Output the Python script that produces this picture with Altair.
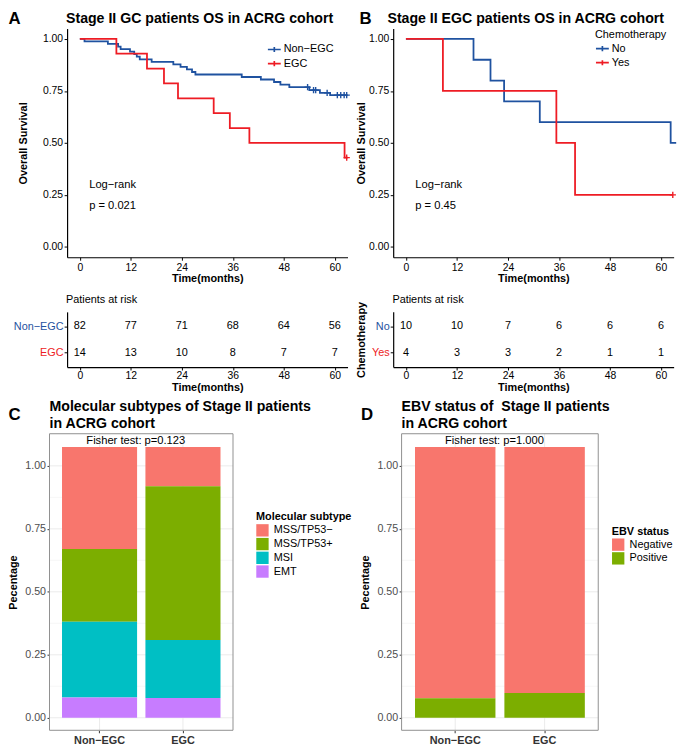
import altair as alt
import pandas as pd

# ---------------- data ----------------
time_breaks = [0, 12, 24, 36, 48, 60]
surv_ticks = [0, 0.25, 0.5, 0.75, 1.0]

# Panel A : Stage II GC, Non-EGC vs EGC
a_groups = ["Non−EGC", "EGC"]
a_nonegc_time = [0, 1.1, 6.6, 9.0, 9.6, 11.8, 12.8, 13.4, 14.1, 16.9, 22.0, 23.7,
                 25.2, 26.4, 27.2, 38.1, 42.6, 45.7, 47.2, 49.3, 54.0, 56.5, 58.9, 63.0]
a_nonegc_surv = [1.0, 0.988, 0.976, 0.963, 0.951, 0.939, 0.927, 0.915, 0.902, 0.890, 0.878, 0.866,
                 0.854, 0.841, 0.829, 0.817, 0.805, 0.793, 0.780, 0.768, 0.754, 0.741, 0.730, 0.730]
a_nonegc_cens_time = [53.6, 55.0, 55.5, 58.2, 60.6, 61.4, 62.2, 62.8]
a_nonegc_cens_surv = [0.768, 0.754, 0.754, 0.741, 0.730, 0.730, 0.730, 0.730]
a_egc_time = [0, 8.6, 15.8, 19.8, 23.1, 31.5, 35.3, 39.9, 62.3, 63.0]
a_egc_surv = [1.0, 0.929, 0.857, 0.786, 0.714, 0.643, 0.571, 0.500, 0.429, 0.429]
a_egc_cens_time = [62.8]
a_egc_cens_surv = [0.429]
a_risk_nonegc = [82, 77, 71, 68, 64, 56]
a_risk_egc = [14, 13, 10, 8, 7, 7]
a_pvalue = "p = 0.021"

# Panel B : Stage II EGC, chemotherapy No vs Yes
b_groups = ["No", "Yes"]
b_no_time = [0, 15.9, 19.9, 23.1, 31.5, 62.3, 63.6]
b_no_surv = [1.0, 0.9, 0.8, 0.7, 0.6, 0.5, 0.5]
b_yes_time = [0, 8.7, 35.4, 39.8, 62.8]
b_yes_surv = [1.0, 0.75, 0.5, 0.25, 0.25]
b_yes_cens_time = [62.8]
b_yes_cens_surv = [0.25]
b_risk_no = [10, 10, 7, 6, 6, 6]
b_risk_yes = [4, 3, 3, 2, 1, 1]
b_pvalue = "p = 0.45"

# Panel C : molecular subtypes (segment heights; stacked bottom-up in reverse list order)
bar_groups = ["Non−EGC", "EGC"]
subtypes = ["MSS/TP53−", "MSS/TP53+", "MSI", "EMT"]
c_nonegc = [0.405, 0.289, 0.301, 0.080]
c_egc = [0.156, 0.610, 0.231, 0.078]
c_fisher = "Fisher test: p=0.123"

# Panel D : EBV status
ebv_levels = ["Negative", "Positive"]
d_nonegc = [0.998, 0.077]
d_egc = [0.977, 0.098]
d_fisher = "Fisher test: p=1.000"

# ---------------- layout helpers ----------------
W, H = 677, 738
FONT = "Liberation Sans"
BLUE = "#1F52A0"
RED = "#EE1C24"
HUE4 = ["#F8766D", "#7CAE00", "#00BFC4", "#C77CFF"]


def X(v):
    return v - 8.0


def Y(v):
    return (v - 3.0) * 0.997


ONE = pd.DataFrame({"k": [0]})
CROSS = "M-1,0L1,0M0,-1L0,1"
LEG_CROSS = "M-1,0L1,0M0,-0.4L0,0.4"


def text_mark(txt, x, y, size, weight="normal", align="left", baseline="middle", color="black"):
    return alt.Chart(ONE).mark_text(
        text=txt, fontSize=size, fontWeight=weight, align=align, baseline=baseline,
        color=color, font=FONT,
    ).encode(x=alt.value(x), y=alt.value(y))


def frame(parts, cols):
    rows = []
    for g, a, b in parts:
        for u, v in zip(a, b):
            rows.append({cols[0]: u, cols[1]: v, "group": g})
    return pd.DataFrame(rows)


AX_KM = dict(domainColor="black", domainWidth=1.2, tickColor="black", tickWidth=1,
             labelColor="black", labelFontSize=10.5, titleFontSize=11, titleFontWeight="bold",
             titleColor="black", grid=False, labelFlush=False)

KM_YRANGE = [Y(251.55), Y(19.45)]


def km_block(curves, cens, groups, xr, legend, ytitle_dx, pval):
    xs = alt.Scale(domain=[-3, 63], range=xr, nice=False, zero=False)
    ys = alt.Scale(domain=[-0.05, 1.05], range=KM_YRANGE, nice=False, zero=False)
    cs = alt.Scale(domain=groups, range=[BLUE, RED])
    xaxis = alt.Axis(orient="bottom", offset=KM_YRANGE[0] - H, values=time_breaks,
                     title="Time(months)", titleY=21.5, titleBaseline="middle",
                     tickSize=3, labelPadding=2.5, **AX_KM)
    yaxis = alt.Axis(orient="left", offset=-xr[0], values=surv_ticks, format=".2f",
                     title="Overall Survival", titleX=ytitle_dx, titleBaseline="middle",
                     tickSize=3, labelPadding=1.5, **AX_KM)
    line = alt.Chart(curves).mark_line(interpolate="step-after", strokeWidth=1.8).encode(
        x=alt.X("time:Q", scale=xs, axis=xaxis),
        y=alt.Y("surv:Q", scale=ys, axis=yaxis),
        color=alt.Color("group:N", scale=cs, legend=legend),
    )
    pts = alt.Chart(cens).mark_point(shape=CROSS, filled=False, size=40, strokeWidth=1.4,
                                     opacity=1).encode(
        x=alt.X("time:Q", scale=xs, axis=xaxis),
        y=alt.Y("surv:Q", scale=ys, axis=yaxis),
        color=alt.Color("group:N", scale=cs, legend=legend),
    )
    t1 = alt.Chart(ONE).mark_text(text="Log−rank", align="left", baseline="middle",
                                  fontSize=11.3, color="black", font=FONT).encode(
        x=alt.XDatum(2.2, type="quantitative", scale=xs, axis=xaxis),
        y=alt.YDatum(0.297, type="quantitative", scale=ys, axis=yaxis),
    )
    t2 = alt.Chart(ONE).mark_text(text=pval, align="left", baseline="middle",
                                  fontSize=11.3, color="black", font=FONT).encode(
        x=alt.XDatum(2.2, type="quantitative", scale=xs, axis=xaxis),
        y=alt.YDatum(0.194, type="quantitative", scale=ys, axis=yaxis),
    )
    return alt.layer(line, pts, t1, t2)


RISK_YR = [Y(307), Y(363)]


def risk_block(groups, counts, xr, ytitle, ytitle_dx):
    df = pd.DataFrame({
        "time": time_breaks * 2,
        "group": [groups[0]] * 6 + [groups[1]] * 6,
        "n": counts[0] + counts[1],
    })
    xs = alt.Scale(domain=[-3, 63], range=xr, nice=False, zero=False)
    ys = alt.Scale(type="point", domain=groups, range=RISK_YR, padding=0.55)
    xaxis = alt.Axis(orient="bottom", offset=RISK_YR[1] - H, values=time_breaks,
                     title="Time(months)", titleY=20.3, titleBaseline="middle",
                     tickSize=3, labelPadding=0.5, **AX_KM)
    yargs = dict(AX_KM)
    yargs.update(labelFontSize=11, labelColor={
        "condition": {"test": "datum.value === '%s'" % groups[1], "value": RED},
        "value": BLUE})
    if ytitle:
        yaxis = alt.Axis(orient="left", offset=-xr[0], title=ytitle, titleX=ytitle_dx,
                         titleBaseline="middle", tickSize=3, labelPadding=1, **yargs)
    else:
        yaxis = alt.Axis(orient="left", offset=-xr[0], title=None, tickSize=3,
                         labelPadding=1, **yargs)
    return alt.Chart(df).mark_text(fontSize=11, color="black", font=FONT).encode(
        x=alt.X("time:Q", scale=xs, axis=xaxis),
        y=alt.Y("group:N", scale=ys, axis=yaxis),
        text="n:Q",
    )


BAR_YDOM = [-0.0497, 1.1275]
BAR_YR = [Y(731.7), Y(430.7)]
grid_major = [0, 0.25, 0.5, 0.75, 1.0]
grid_minor = [0.125, 0.375, 0.625, 0.875]


def bar_block(levels, values_by_group, colors, x0, x1, legend, ytitle_dx):
    rows = []
    for g, vals in zip(bar_groups, values_by_group):
        for i, (lv, v) in enumerate(zip(levels, vals)):
            rows.append({"group": g, "level": lv, "value": v, "rank": len(levels) - 1 - i})
    df = pd.DataFrame(rows)
    xs = alt.Scale(domain=bar_groups, range=[X(x0), X(x1)], paddingInner=0.1, paddingOuter=0.15)
    ys = alt.Scale(domain=BAR_YDOM, range=BAR_YR, nice=False, zero=False)
    cs = alt.Scale(domain=levels, range=colors)
    xaxis = alt.Axis(orient="bottom", offset=BAR_YR[0] - H, domain=False, tickColor="#333333",
                     tickSize=2.5, labelPadding=1.5, labelFontWeight="bold", labelColor="#333333",
                     labelFontSize=11, labelAngle=0, title=None, grid=False)
    yaxis = alt.Axis(orient="left", offset=-X(x0), values=grid_major, format=".2f", domain=False,
                     tickColor="#333333", tickSize=2.5, labelPadding=1.5, labelColor="#4D4D4D",
                     labelFontSize=10.8, title="Pecentage", titleX=ytitle_dx,
                     titleBaseline="middle", titleFontWeight="bold", titleFontSize=11,
                     titleColor="black", grid=False)
    gmaj = alt.Chart(pd.DataFrame({"v": grid_major})).mark_rule(color="#EBEBEB", strokeWidth=1).encode(
        y=alt.Y("v:Q", scale=ys, axis=yaxis), x=alt.value(X(x0)), x2=alt.value(X(x1)))
    gmin = alt.Chart(pd.DataFrame({"v": grid_minor})).mark_rule(color="#F2F2F2", strokeWidth=0.6).encode(
        y=alt.Y("v:Q", scale=ys, axis=yaxis), x=alt.value(X(x0)), x2=alt.value(X(x1)))
    gver = alt.Chart(pd.DataFrame({"group": bar_groups})).mark_rule(color="#EBEBEB", strokeWidth=1).encode(
        x=alt.X("group:N", scale=xs, axis=xaxis), y=alt.value(BAR_YR[1]), y2=alt.value(BAR_YR[0]))
    bars = alt.Chart(df).mark_bar(strokeWidth=0).encode(
        x=alt.X("group:N", scale=xs, axis=xaxis),
        y=alt.Y("value:Q", stack="zero", scale=ys, axis=yaxis),
        color=alt.Color("level:N", scale=cs, legend=legend),
        order=alt.Order("rank:Q", sort="ascending"),
    )
    border = alt.Chart(ONE).mark_rect(filled=False, stroke="#8F8F8F", strokeWidth=1).encode(
        x=alt.value(X(x0)), x2=alt.value(X(x1)), y=alt.value(BAR_YR[1]), y2=alt.value(BAR_YR[0]))
    return alt.layer(gmin, gmaj, gver, bars, border)


# ---------------- build ----------------
A_XR = [X(67.8), X(351.6)]
B_XR = [X(397.8), X(681.6)]

a_curves = frame([(a_groups[0], a_nonegc_time, a_nonegc_surv),
                  (a_groups[1], a_egc_time, a_egc_surv)], ["time", "surv"])
a_cens = frame([(a_groups[0], a_nonegc_cens_time, a_nonegc_cens_surv),
                (a_groups[1], a_egc_cens_time, a_egc_cens_surv)], ["time", "surv"])
b_curves = frame([(b_groups[0], b_no_time, b_no_surv),
                  (b_groups[1], b_yes_time, b_yes_surv)], ["time", "surv"])
b_cens = frame([(b_groups[1], b_yes_cens_time, b_yes_cens_surv)], ["time", "surv"])

leg_common = dict(orient="none", symbolType=LEG_CROSS, symbolSize=169, symbolStrokeWidth=1.7,
                  labelFontSize=11, labelColor="black", labelOffset=2, rowPadding=0.3, padding=0,
                  labelFont=FONT)
legA = alt.Legend(legendX=X(270), legendY=Y(41.7) - 8.5, title=None, **leg_common)
legB = alt.Legend(legendX=X(602), legendY=Y(19.6), title="Chemotherapy", titleFontSize=11,
                  titleFontWeight="normal", titleColor="black", titlePadding=1.6, titleFont=FONT,
                  **leg_common)

leg_bar = dict(orient="none", symbolType="square", symbolSize=156, symbolStrokeWidth=0,
               labelFontSize=11, labelColor="black", labelOffset=5, rowPadding=0.9, padding=0,
               titleFontSize=11, titleFontWeight="bold", titleColor="black", titlePadding=1.7,
               labelFont=FONT, titleFont=FONT)
legC = alt.Legend(legendX=X(259), legendY=Y(509.5), title="Molecular subtype", **leg_bar)
legD = alt.Legend(legendX=X(619), legendY=Y(524), title="EBV status", **leg_bar)

layers = [
    km_block(a_curves, a_cens, a_groups, A_XR, legA, -44.3, a_pvalue),
    km_block(b_curves, b_cens, b_groups, B_XR, legB, -31.8, b_pvalue),
    risk_block(a_groups, [a_risk_nonegc, a_risk_egc], A_XR, None, 0),
    risk_block(b_groups, [b_risk_no, b_risk_yes], B_XR, "Chemotherapy", -32.5),
    bar_block(subtypes, [c_nonegc, c_egc], HUE4, 50, 235.7, legC, -36.7),
    bar_block(ebv_levels, [d_nonegc, d_egc], HUE4[:2], 406.3, 605.3, legD, -36.0),
    # titles and annotations
    text_mark("A", 0.5, Y(15), 17, "bold", baseline="alphabetic"),
    text_mark("Stage II GC patients OS in ACRG cohort", X(66.7), Y(10), 14.3, "bold"),
    text_mark("B", X(363.7), Y(15), 17, "bold", baseline="alphabetic"),
    text_mark("Stage II EGC patients OS in ACRG cohort", X(392), Y(10), 14.3, "bold"),
    text_mark("Patients at risk", X(66.7), Y(295), 11),
    text_mark("Patients at risk", X(397), Y(295), 11),
    text_mark("C", 0.5, Y(417), 17, "bold", baseline="alphabetic"),
    text_mark("Molecular subtypes of Stage II patients", X(50), Y(403.3), 14.3, "bold"),
    text_mark("in ACRG cohort", X(50), Y(421), 14.3, "bold"),
    text_mark("D", X(365.3), Y(417), 17, "bold", baseline="alphabetic"),
    text_mark("EBV status of\u00a0 Stage II patients", X(406.3), Y(403.3), 14.3, "bold"),
    text_mark("in ACRG cohort", X(406.3), Y(421), 14.3, "bold"),
    text_mark(c_fisher, X(137.3), Y(438.3), 11.3, align="center"),
    text_mark(d_fisher, X(500.3), Y(438.3), 11.3, align="center"),
]

chart = alt.layer(*layers).resolve_scale(
    x="independent", y="independent", color="independent"
).properties(
    width=W, height=H, autosize=alt.AutoSizeParams(type="none"), padding=0
).configure_view(strokeWidth=0).configure_axis(
    labelFont=FONT, titleFont=FONT
).configure_legend(labelFont=FONT, titleFont=FONT).configure_text(font=FONT)

chart.save("out.html", embed_options={"renderer": "svg", "actions": False})
